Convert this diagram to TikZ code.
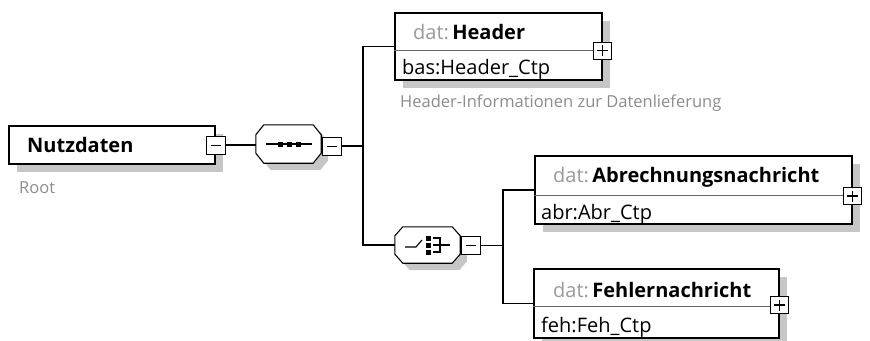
\documentclass[tikz,border=0pt]{standalone}
\usepackage{fontspec}
\setmainfont{Open Sans}
\definecolor{shd}{HTML}{C6C6C6}
\definecolor{nsgray}{HTML}{9A9A9A}
\definecolor{capgray}{HTML}{8C8C8C}
\newcommand{\octapath}[2]{%
  ([xshift=8pt]#1.north west) -- ([xshift=-8pt]#1.north east) -- ([yshift=-#2]#1.north east)
  -- ([yshift=#2]#1.south east) -- ([xshift=-8pt]#1.south east) -- ([xshift=8pt]#1.south west)
  -- ([yshift=#2]#1.south west) -- ([yshift=-#2]#1.north west) -- cycle}
\begin{document}
\begin{tikzpicture}[x=1pt,y=-1pt,
  elem/.style={draw=black, line width=1.3pt, fill=white, inner sep=0pt},
  shadowbox/.style={fill=shd, draw=none, inner sep=0pt},
  octaframe/.style={draw=none, inner sep=0pt, minimum width=65pt, minimum height=38pt},
  octaline/.style={draw=black, line width=1.1pt, fill=white},
  btn/.style={draw=black, line width=1pt, fill=white, inner sep=0pt, minimum width=18pt, minimum height=17pt},
  conn/.style={draw=black, line width=1.1pt},
  nstxt/.style={anchor=base west, inner sep=0pt, text=nsgray, font=\fontsize{20}{24}\selectfont},
  nametxt/.style={anchor=base west, inner sep=0pt, font=\fontsize{20}{24}\bfseries\selectfont},
  typetxt/.style={anchor=base west, inner sep=0pt, font=\fontsize{20}{24}\selectfont},
  captxt/.style={anchor=base west, inner sep=0pt, text=capgray, font=\fontsize{16.5}{19}\selectfont},
  divline/.style={draw=black!60, line width=0.8pt}]
\useasboundingbox (0,0) rectangle (870,340);

% ---------- Nutzdaten ----------
\node[shadowbox, minimum width=206pt, minimum height=38pt] (nutzs) at (120,153) {};
\node[elem, minimum width=206pt, minimum height=38pt] (nutz) at (112,145) {};
\node[nametxt] (nutzt) at (27,152) {Nutzdaten};
\node[btn, minimum width=19pt, minimum height=18pt] (nutzb) at (nutz.east) {};
\draw[line width=1pt] ([xshift=-5pt]nutzb.center) -- ([xshift=5pt]nutzb.center);
\node[captxt] (root) at (19,193) {Root};

% ---------- sequence ----------
\node[octaframe] (seqs) at (295.5,151) {};
\fill[shd] \octapath{seqs}{10pt};
\node[octaframe] (seq) at (288.5,144) {};
\draw[octaline] \octapath{seq}{10pt};
\draw[line width=1.1pt] (266,144) -- (312,144);
\foreach \xx in {280,289,298} \fill (\xx-2.5,141.5) rectangle (\xx+2.5,146.5);
\node[btn, minimum width=19pt, minimum height=18pt] (seqb) at (331.5,146) {};
\draw[line width=1pt] ([xshift=-5pt]seqb.center) -- ([xshift=5pt]seqb.center);

\coordinate (j1) at (363,146);
\draw[conn] (nutzb.east) -- (nutzb.east -| seq.west);
\draw[conn] (seqb.east) -- (j1);

% ---------- Header ----------
\node[shadowbox, minimum width=207pt, minimum height=67pt] (hdrs) at (506.5,54.5) {};
\node[elem, minimum width=207pt, minimum height=67pt] (hdr) at (498.5,46.5) {};
\draw[divline] (hdr.west |- 0,50) -- (hdr.east |- 0,50);
\node[nstxt] (hdrns) at (413,39) {dat:};
\node[nametxt, xshift=3pt] (hdrn) at (hdrns.base east) {Header};
\node[typetxt] (hdrt) at (402,74) {bas:Header\_Ctp};
\node[btn] (hdrb) at (hdr.east |- 0,50.5) {};
\draw[line width=1.1pt] ([xshift=-5.5pt]hdrb.center) -- ([xshift=5.5pt]hdrb.center);
\draw[line width=1.1pt] ([yshift=-5.5pt]hdrb.center) -- ([yshift=5.5pt]hdrb.center);
\node[captxt] (hdrc) at (400,107) {Header-Informationen zur Datenlieferung};

% ---------- choice ----------
\node[octaframe, minimum height=36pt] (chs) at (434.5,252) {};
\fill[shd] \octapath{chs}{9pt};
\node[octaframe, minimum height=36pt] (ch) at (427.5,245) {};
\draw[octaline] \octapath{ch}{9pt};
\draw[line width=1.1pt] (405,247) -- (416,247) -- (422,240);
\foreach \yy in {238,245,252} \fill (425.5,\yy-2.5) rectangle (430.5,\yy+2.5);
\draw[line width=1.1pt] (433,238) -- (440,238) -- (440,252) -- (433,252);
\draw[line width=1.1pt] (433,245) -- (450,245);
\node[btn, minimum width=19pt, minimum height=18pt] (chb) at (470.5,245.5) {};
\draw[line width=1pt] ([xshift=-5pt]chb.center) -- ([xshift=5pt]chb.center);

\draw[conn] (hdr.west) -| (j1) |- (ch.west);

% ---------- Abrechnungsnachricht ----------
\node[shadowbox, minimum width=317pt, minimum height=68pt] (abrs) at (701.5,198) {};
\node[elem, minimum width=317pt, minimum height=68pt] (abr) at (693.5,190) {};
\draw[divline] (abr.west |- 0,195) -- (abr.east |- 0,195);
\node[nstxt] (abrns) at (553,182) {dat:};
\node[nametxt, xshift=3pt] (abrn) at (abrns.base east) {Abrechnungsnachricht};
\node[typetxt] (abrt) at (541,219) {abr:Abr\_Ctp};
\node[btn] (abrb) at (abr.east |- 0,196) {};
\draw[line width=1.1pt] ([xshift=-5.5pt]abrb.center) -- ([xshift=5.5pt]abrb.center);
\draw[line width=1.1pt] ([yshift=-5.5pt]abrb.center) -- ([yshift=5.5pt]abrb.center);

% ---------- Fehlernachricht ----------
\node[shadowbox, minimum width=245pt, minimum height=69pt] (fehs) at (664.5,311.5) {};
\node[elem, minimum width=245pt, minimum height=69pt] (feh) at (656.5,303.5) {};
\draw[divline] (feh.west |- 0,306) -- (feh.east |- 0,306);
\node[nstxt] (fehns) at (553,297) {dat:};
\node[nametxt, xshift=3pt] (fehn) at (fehns.base east) {Fehlernachricht};
\node[typetxt] (feht) at (541,332) {feh:Feh\_Ctp};
\node[btn] (fehb) at (feh.east |- 0,305) {};
\draw[line width=1.1pt] ([xshift=-5.5pt]fehb.center) -- ([xshift=5.5pt]fehb.center);
\draw[line width=1.1pt] ([yshift=-5.5pt]fehb.center) -- ([yshift=5.5pt]fehb.center);

\coordinate (j2) at (503,245.5);
\draw[conn] (chb.east) -- (j2);
\draw[conn] (abr.west) -| (j2) |- (feh.west);
\end{tikzpicture}
\end{document}
